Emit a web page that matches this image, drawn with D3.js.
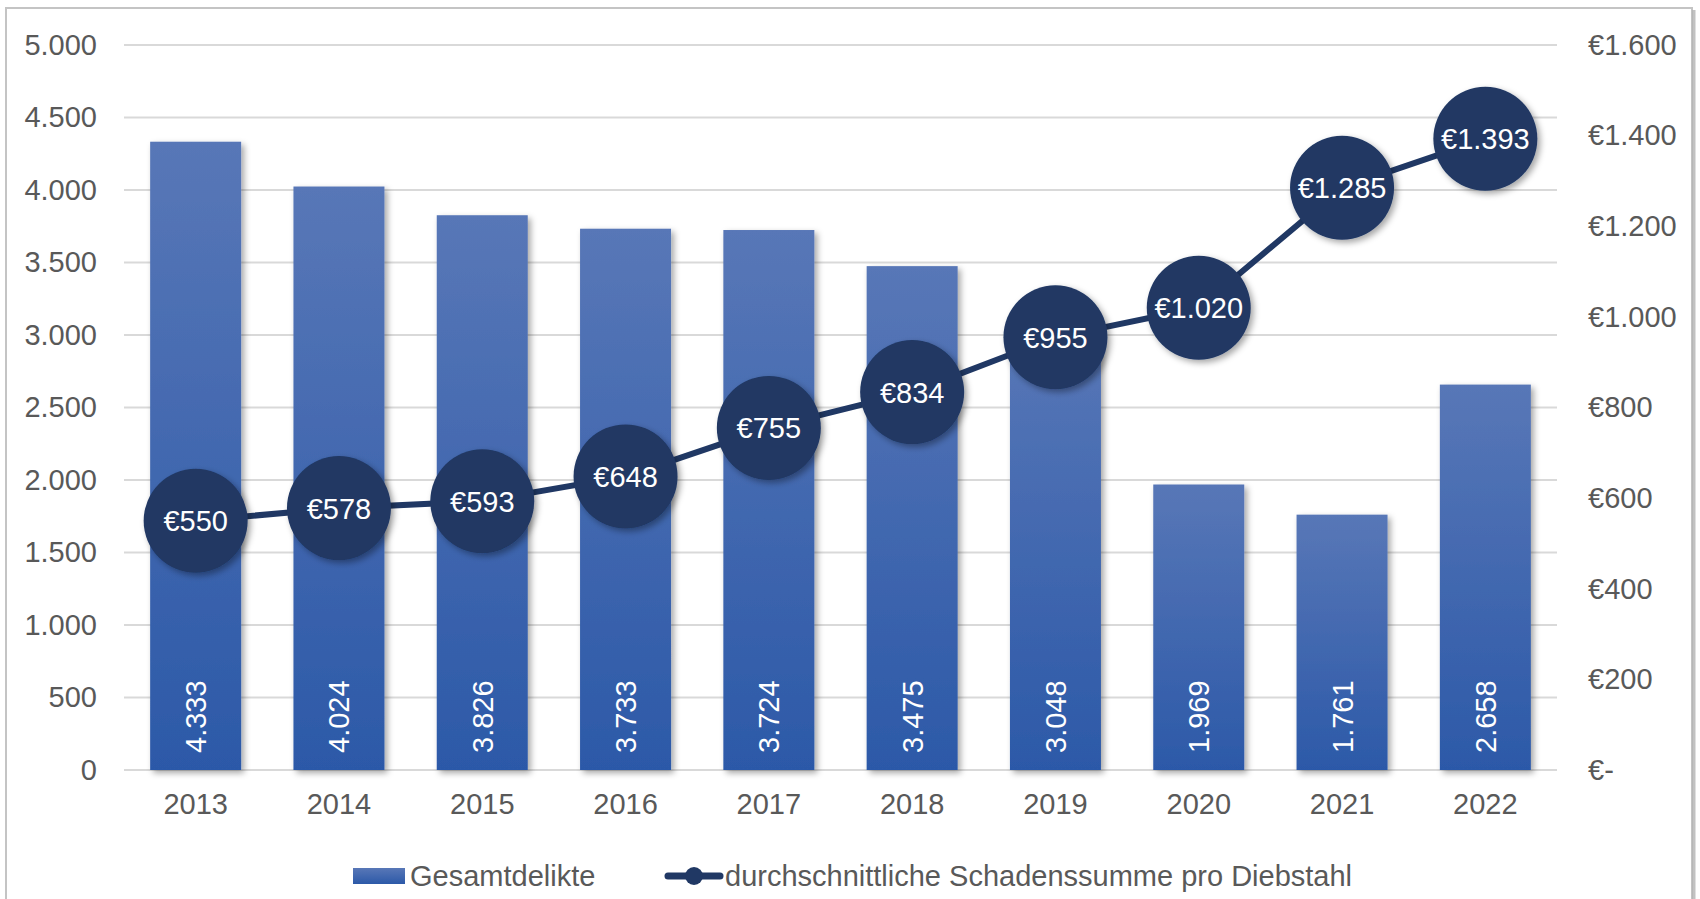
<!DOCTYPE html>
<html>
<head>
<meta charset="utf-8">
<script src="https://cdn.jsdelivr.net/npm/d3@7"></script>
<style>
  html, body { margin: 0; padding: 0; background: #fff; }
  svg { display: block; font-family: "Liberation Sans", Arial, sans-serif; }
</style>
</head>
<body>
<svg id="chart" width="1700" height="899"></svg>
<script>
// data
const years = ["2013", "2014", "2015", "2016", "2017", "2018", "2019", "2020", "2021", "2022"];
const delikte = [4333, 4024, 3826, 3733, 3724, 3475, 3048, 1969, 1761, 2658];
const schaden = [550, 578, 593, 648, 755, 834, 955, 1020, 1285, 1393];
const leftTicks = [0, 500, 1000, 1500, 2000, 2500, 3000, 3500, 4000, 4500, 5000];
const rightTicks = [0, 200, 400, 600, 800, 1000, 1200, 1400, 1600];
const barName = "Gesamtdelikte";
const lineName = "durchschnittliche Schadenssumme pro Diebstahl";

const de = d3.formatLocale({ decimal: ",", thousands: ".", grouping: [3], currency: ["€", ""] });
const fmt = de.format(",d");
const eur = d => d === 0 ? "€-" : "€" + fmt(d);

const svg = d3.select("#chart");
const margin = { left: 124, right: 143, top: 45, bottom: 129 };
const width = 1700 - margin.left - margin.right;
const height = 899 - margin.top - margin.bottom;

const defs = svg.append("defs");
const grad = defs.append("linearGradient").attr("id", "barGrad")
    .attr("x1", 0).attr("y1", 0).attr("x2", 0).attr("y2", 1);
grad.append("stop").attr("offset", "0%").attr("stop-color", "#5877b7");
grad.append("stop").attr("offset", "100%").attr("stop-color", "#2c59a8");

const shadow = defs.append("filter").attr("id", "shadow")
    .attr("x", "-20%").attr("y", "-20%").attr("width", "150%").attr("height", "150%");
shadow.append("feDropShadow").attr("dx", 3).attr("dy", 3).attr("stdDeviation", 3)
    .attr("flood-color", "#000").attr("flood-opacity", 0.35);

// chart frame
svg.append("rect").attr("x", 6).attr("y", 8).attr("width", 1686).attr("height", 900)
    .attr("fill", "#fff").attr("stroke", "#c4c4c4").attr("stroke-width", 2);
svg.append("line").attr("x1", 1694).attr("x2", 1694).attr("y1", 10).attr("y2", 899)
    .attr("stroke", "#9a9a9a").attr("stroke-width", 3).attr("opacity", 0.6);

const g = svg.append("g").attr("transform", `translate(${margin.left},${margin.top})`);

const x = d3.scaleBand().domain(years).range([0, width]).paddingInner(0.365).paddingOuter(0.1825);
const yL = d3.scaleLinear().domain([0, 5000]).range([height, 0]);
const yR = d3.scaleLinear().domain([0, 1600]).range([height, 0]);

// gridlines
g.append("g").selectAll("line").data(leftTicks).join("line")
    .attr("x1", 0).attr("x2", width)
    .attr("y1", d => yL(d)).attr("y2", d => yL(d))
    .attr("stroke", "#d9d9d9").attr("stroke-width", 2);

// axes
const axisL = g.append("g").call(d3.axisLeft(yL).tickValues(leftTicks).tickFormat(fmt).tickSize(0).tickPadding(27));
const axisR = g.append("g").attr("transform", `translate(${width},0)`)
    .call(d3.axisRight(yR).tickValues(rightTicks).tickFormat(eur).tickSize(0).tickPadding(31));
const axisB = g.append("g").attr("transform", `translate(0,${height})`)
    .call(d3.axisBottom(x).tickSize(0).tickPadding(23));
[axisL, axisR, axisB].forEach(a => {
  a.select(".domain").remove();
  a.selectAll("text").attr("fill", "#595959").style("font-size", "29px")
      .style("font-family", "'Liberation Sans', Arial, sans-serif");
});

// bars
const rows = years.map((y, i) => ({ year: y, n: delikte[i], v: schaden[i] }));
g.append("g").selectAll("rect").data(rows).join("rect")
    .attr("x", d => x(d.year)).attr("width", x.bandwidth())
    .attr("y", d => yL(d.n)).attr("height", d => height - yL(d.n))
    .attr("fill", "url(#barGrad)").attr("filter", "url(#shadow)");

g.append("g").selectAll("text").data(rows).join("text")
    .attr("transform", d => `translate(${x(d.year) + x.bandwidth() / 2},${height - 17}) rotate(-90)`)
    .attr("dy", "0.36em")
    .attr("fill", "#fff").style("font-size", "29px")
    .text(d => fmt(d.n));

// line
const cx = d => x(d.year) + x.bandwidth() / 2;
g.append("path").datum(rows)
    .attr("d", d3.line().x(cx).y(d => yR(d.v)))
    .attr("fill", "none").attr("stroke", "#203864").attr("stroke-width", 6);

const pts = g.append("g").selectAll("g").data(rows).join("g")
    .attr("transform", d => `translate(${cx(d)},${yR(d.v)})`);
pts.append("circle").attr("r", 52).attr("fill", "#203864").attr("filter", "url(#shadow)");
pts.append("text").attr("text-anchor", "middle").attr("dy", "0.36em")
    .attr("fill", "#fff").style("font-size", "29px")
    .text(d => eur(d.v));

// legend
const leg = svg.append("g").attr("transform", "translate(0,876)");
leg.append("rect").attr("x", 353).attr("y", -8).attr("width", 52).attr("height", 16)
    .attr("fill", "url(#barGrad)");
leg.append("text").attr("x", 410).attr("dy", "0.36em").attr("fill", "#595959")
    .style("font-size", "29px").text(barName);
leg.append("line").attr("x1", 668).attr("x2", 720).attr("y1", 0).attr("y2", 0)
    .attr("stroke", "#203864").attr("stroke-width", 7).attr("stroke-linecap", "round");
leg.append("circle").attr("cx", 694).attr("cy", 0).attr("r", 9).attr("fill", "#203864");
leg.append("text").attr("x", 725).attr("dy", "0.36em").attr("fill", "#595959")
    .style("font-size", "29px").text(lineName);
</script>
</body>
</html>
